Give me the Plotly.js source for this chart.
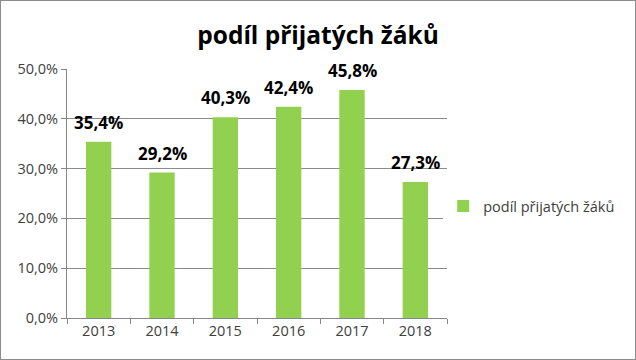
<!DOCTYPE html>
<html><head><meta charset="utf-8">
<script src="https://cdn.plot.ly/plotly-3.0.1.min.js"></script>
<style>html,body{margin:0;padding:0;background:#fff}#c{width:634px;height:358px;border:1px solid #8c8c8c}</style>
</head><body><div id="c"></div>
<script>
const categories = ["2013","2014","2015","2016","2017","2018"];
const values = [0.354, 0.292, 0.403, 0.424, 0.458, 0.273];
const seriesName = "podíl přijatých žáků";
const chartTitle = "podíl přijatých žáků";

const trace = {
  type: "bar", x: categories, y: values, name: seriesName,
  marker: {color: "#92D050"}, width: 0.4, showlegend: true
};
const labels = categories.map((c, i) => ({
  x: i, y: values[i], xref: "x", yref: "y",
  text: (values[i] * 100).toFixed(1).replace(".", ",") + "%",
  showarrow: false, yanchor: "bottom", yshift: 6,
  font: {family: "Open Sans, sans-serif", size: 17, color: "#000", weight: "bold"}
}));
const layout = {
  width: 634, height: 358, separators: ",.",
  paper_bgcolor: "#fff", plot_bgcolor: "#fff",
  margin: {l: 66, r: 188, t: 68, b: 41},
  font: {family: "Open Sans, sans-serif", color: "#404040", size: 14},
  title: {text: "<b>" + chartTitle + "</b>", x: 0.5, xref: "container", xanchor: "center",
    y: 1 - 34/358, yref: "container", yanchor: "middle",
    font: {family: "Open Sans, sans-serif", size: 24.5, color: "#000"}},
  xaxis: {type: "category", categoryarray: categories, showline: true, linecolor: "#868686", ticks: "outside", tickson: "boundaries",
    ticklen: 5, tickcolor: "#868686", tickfont: {size: 14.5, color: "#404040"}},
  yaxis: {range: [0, 0.5], dtick: 0.1, tickformat: ".1%", showline: true, linecolor: "#868686",
    ticks: "outside", ticklen: 5, tickcolor: "#868686", gridcolor: "#8a8a8a", gridwidth: 1,
    zeroline: false, tickfont: {size: 14.5, color: "#404040"}},
  legend: {x: 0.99, xanchor: "left", y: 0.45, yanchor: "middle", font: {size: 14.5, color: "#404040"},
    itemwidth: 30},
  annotations: labels,
  bargap: 0.6, showlegend: true
};
Plotly.newPlot("c", [trace], layout, {displayModeBar: false, staticPlot: true});
</script></body></html>
